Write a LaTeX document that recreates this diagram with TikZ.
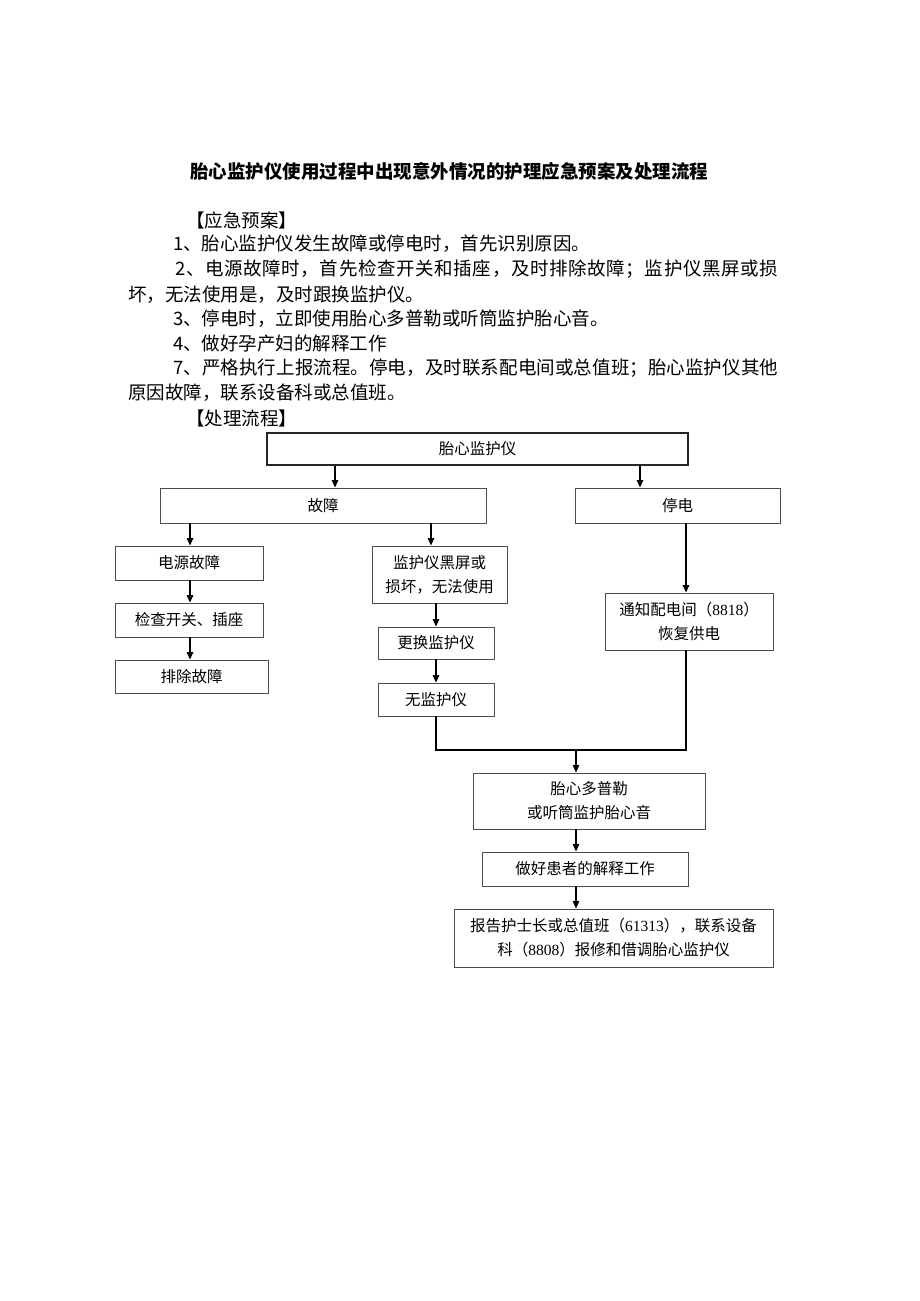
\documentclass[tikz,border=0pt]{standalone}
\usepackage{fontspec}
\setmainfont{Noto Sans CJK SC}
\newfontfamily\lat{Liberation Serif}
\usetikzlibrary{arrows.meta}
\makeatletter
\newcommand\spreadline[2]{\makebox[#1][s]{\@tfor\sp@tok:=#2\do{\sp@tok\hfil}\unskip}}
\makeatother
\begin{document}
\begin{tikzpicture}[x=1pt,y=-1pt,
  box/.style={draw=black!70, line width=0.9pt, fill=white, inner sep=0pt, align=center, font=\fontsize{15.5}{24}\selectfont},
  arr/.style={draw=black, line width=1.3pt, -{Triangle[length=7.5pt,width=6.5pt]}},
  ln/.style={draw=black, line width=1.3pt},
  body/.style={anchor=west, inner sep=0pt, font=\fontsize{18.5}{24}\selectfont},
  ttl/.style={inner sep=0pt, font=\fontsize{18.5}{24}\selectfont\bfseries}]
\useasboundingbox[fill=white] (0,0) rectangle (920,1301);

% title and text
\node[ttl] (title) at (449,171) {胎心监护仪使用过程中出现意外情况的护理应急预案及处理流程};
\node[body] (h1) at (186,220) {【应急预案】};
\node[body] (l1) at (173,244) {1、胎心监护仪发生故障或停电时，首先识别原因。};
\node[body] (l2) at (175,269) {\spreadline{603pt}{2、电源故障时，首先检查开关和插座，及时排除故障；监护仪黑屏或损}};
\node[body] (l2b) at (128,295) {坏，无法使用是，及时跟换监护仪。};
\node[body] (l3) at (173,319) {3、停电时，立即使用胎心多普勒或听筒监护胎心音。};
\node[body] (l4) at (173,343) {4、做好孕产妇的解释工作};
\node[body] (l7) at (173,368) {\spreadline{605pt}{7、严格执行上报流程。停电，及时联系配电间或总值班；胎心监护仪其他}};
\node[body] (l7b) at (128,393) {原因故障，联系设备科或总值班。};
\node[body] (h2) at (186,418) {【处理流程】};

% boxes
\node[box, draw=black!85, line width=1.1pt, minimum width=421pt, minimum height=32pt] (top) at (477.5,449) {胎心监护仪};
\node[box, minimum width=326pt, minimum height=35pt] (gz) at (323,505.5) {故障};
\node[box, minimum width=205pt, minimum height=35pt] (td) at (677.5,505.5) {停电};
\node[box, minimum width=148pt, minimum height=34pt] (dy) at (189,563) {电源故障};
\node[box, minimum width=148pt, minimum height=34pt] (jc) at (189,620) {检查开关、插座};
\node[box, minimum width=153pt, minimum height=33pt] (pc) at (191.5,676.5) {排除故障};
\node[box, minimum width=135pt, minimum height=57pt] (hp) at (439.5,574.5) {监护仪黑屏或\\损坏，无法使用};
\node[box, minimum width=116pt, minimum height=32pt] (gh) at (436,643) {更换监护仪};
\node[box, minimum width=116pt, minimum height=33pt] (wj) at (436,699.5) {无监护仪};
\node[box, minimum width=168pt, minimum height=57pt] (tz) at (689,621.5) {通知配电间（{\lat 8818}）\\恢复供电};
\node[box, minimum width=232pt, minimum height=56pt] (dp) at (589,801) {胎心多普勒\\或听筒监护胎心音};
\node[box, minimum width=206pt, minimum height=34pt] (js) at (585,869) {做好患者的解释工作};
\node[box, minimum width=319pt, minimum height=58pt] (bg) at (613.5,938) {报告护士长或总值班（{\lat 61313}），联系设备\\科（{\lat 8808}）报修和借调胎心监护仪};

% x positions
\coordinate (xa) at (335,0);
\coordinate (xb) at (640,0);
\coordinate (xc) at (190,0);
\coordinate (xd) at (431,0);
\coordinate (xe) at (436,0);
\coordinate (xf) at (686,0);
\coordinate (xg) at (576,0);
\coordinate (yj) at (0,750);

% connectors
\draw[arr] (top.south -| xa) -- (gz.north -| xa);
\draw[arr] (top.south -| xb) -- (td.north -| xb);
\draw[arr] (gz.south -| xc) -- (dy.north -| xc);
\draw[arr] (gz.south -| xd) -- (hp.north -| xd);
\draw[arr] (dy.south -| xc) -- (jc.north -| xc);
\draw[arr] (jc.south -| xc) -- (pc.north -| xc);
\draw[arr] (hp.south -| xe) -- (gh.north -| xe);
\draw[arr] (gh.south -| xe) -- (wj.north -| xe);
\draw[arr] (td.south -| xf) -- (tz.north -| xf);
\draw[ln] (wj.south -| xe) -- (xe |- yj) -- (xf |- yj) -- (tz.south -| xf);
\draw[arr] (xg |- yj) -- (dp.north -| xg);
\draw[arr] (dp.south -| xg) -- (js.north -| xg);
\draw[arr] (js.south -| xg) -- (bg.north -| xg);
\end{tikzpicture}
\end{document}
